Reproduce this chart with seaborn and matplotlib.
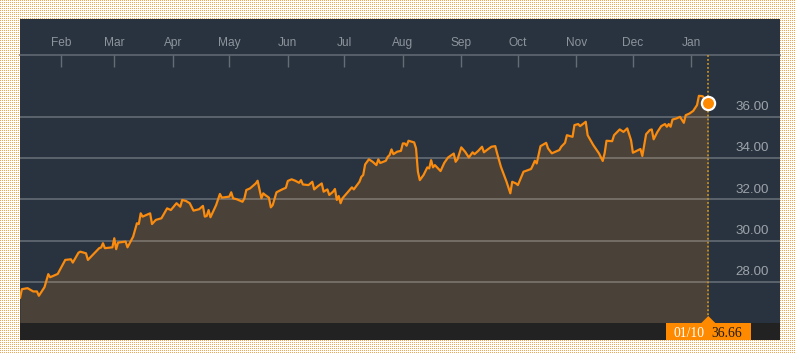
import numpy as np
import pandas as pd
import matplotlib
matplotlib.use("Agg")
import matplotlib.pyplot as plt
import matplotlib.dates as mdates
from matplotlib.patches import Rectangle, Polygon
from matplotlib.transforms import offset_copy
import seaborn as sns

# ---------------- data ----------------
start_date = "2017-01-10"
end_view = "2018-02-17"
days_since_start = [0, 1, 4, 7, 9, 10, 13, 15, 16, 20, 24, 27, 28, 31, 32, 35, 36, 38, 42, 43,
                    44, 45, 49, 50, 51, 52, 56, 57, 60, 62, 63, 64, 65, 69, 70, 72, 75, 78, 80, 83,
                    85, 86, 88, 90, 92, 95, 97, 98, 99, 100, 101, 104, 106, 107, 111, 112, 113, 115, 118, 119,
                    120, 122, 125, 126, 128, 129, 130, 132, 133, 134, 136, 139, 141, 142, 144, 146, 148, 149, 150, 153,
                    155, 156, 158, 160, 161, 163, 164, 166, 167, 168, 169, 170, 171, 173, 176, 177, 180, 181, 182, 183,
                    185, 187, 189, 190, 191, 194, 195, 196, 197, 198, 200, 202, 203, 204, 205, 206, 209, 210, 211, 212,
                    214, 216, 217, 218, 219, 220, 223, 225, 227, 230, 231, 232, 234, 236, 238, 240, 241, 243, 245, 246,
                    248, 250, 252, 253, 255, 257, 258, 260, 261, 263, 264, 267, 268, 271, 272, 273, 274, 276, 277, 279,
                    280, 282, 284, 286, 287, 289, 290, 293, 294, 296, 297, 300, 301, 302, 304, 307, 309, 310, 311, 314,
                    315, 318, 320, 322, 324, 325, 327, 329, 330, 332, 334, 335, 336, 338, 340, 342, 343, 344, 345, 346,
                    348, 350, 352, 353, 355, 357, 359, 360, 362, 365]
close_values = [27.21, 27.64, 27.69, 27.53, 27.53, 27.32, 27.74, 28.37, 28.22, 28.38, 29.06, 29.09, 28.93, 29.41, 29.46, 29.38, 29.06, 29.25, 29.63, 29.66,
                29.87, 29.63, 29.67, 30.11, 29.58, 29.90, 29.95, 29.67, 30.19, 30.84, 30.80, 31.32, 31.16, 31.32, 30.80, 31.00, 31.08, 31.56, 31.48, 31.81,
                31.64, 31.97, 31.92, 31.81, 31.45, 31.52, 31.68, 31.16, 31.19, 31.48, 31.13, 31.72, 32.26, 32.08, 32.13, 32.34, 32.05, 32.00, 31.88, 32.05,
                32.45, 32.53, 32.77, 32.90, 32.05, 32.29, 32.21, 32.08, 31.61, 31.72, 32.34, 32.48, 32.56, 32.89, 32.97, 32.90, 32.80, 32.93, 32.72, 32.69,
                32.85, 32.48, 32.64, 32.77, 32.37, 32.48, 32.21, 32.37, 32.50, 31.97, 32.16, 31.81, 32.05, 32.26, 32.58, 32.48, 32.85, 33.09, 33.18, 33.69,
                33.94, 33.82, 33.66, 33.94, 33.76, 33.87, 34.06, 34.15, 34.42, 34.19, 34.31, 34.35, 34.71, 34.71, 34.60, 34.84, 34.76, 34.47, 33.34, 32.93,
                33.18, 33.55, 33.50, 33.90, 33.55, 33.66, 33.37, 33.77, 34.03, 34.22, 33.82, 33.94, 34.52, 34.31, 34.03, 34.28, 34.19, 34.35, 34.55, 34.28,
                34.42, 34.55, 34.58, 34.23, 33.58, 33.09, 32.85, 32.29, 32.85, 32.77, 32.69, 33.34, 33.37, 33.47, 33.66, 33.87, 33.74, 34.58, 34.63, 34.74,
                34.47, 34.23, 34.31, 34.39, 34.55, 34.74, 35.11, 35.03, 35.60, 35.65, 35.55, 35.76, 35.11, 34.95, 34.63, 34.23, 33.86, 34.23, 34.84, 34.82,
                35.11, 35.39, 35.27, 35.44, 34.87, 34.26, 34.35, 34.44, 34.10, 35.16, 35.36, 35.39, 34.91, 35.27, 35.55, 35.65, 35.52, 35.65, 35.52, 35.87,
                35.92, 36.00, 35.71, 36.08, 36.16, 36.29, 36.57, 37.02, 37.00, 36.66]
month_ticks = ["2017-02-01", "2017-03-01", "2017-04-01", "2017-05-01", "2017-06-01", "2017-07-01",
               "2017-08-01", "2017-09-01", "2017-10-01", "2017-11-01", "2017-12-01", "2018-01-01"]
month_labels = ["Feb", "Mar", "Apr", "May", "Jun", "Jul", "Aug", "Sep", "Oct", "Nov", "Dec", "Jan"]
price_ticks = [28, 30, 32, 34, 36]
price_labels = ["28.00", "30.00", "32.00", "34.00", "36.00"]
price_range = (26.0, 39.0)
last_date_label = "01/10"
last_value_label = "36.66"

dates = pd.to_datetime(start_date) + pd.to_timedelta(days_since_start, unit="D")
df = pd.DataFrame({"date": dates, "close": close_values})

# ---------------- style ----------------
sns.set_theme(style="dark")
plt.rcParams['font.family'] = ['Liberation Sans', 'DejaVu Sans']

W, H = 795, 353
fig = plt.figure(figsize=(W / 100, H / 100), dpi=100)
fig.patch.set_facecolor("white")

# dotted orange page background
pat = np.ones((H, W, 3))
yy, xx = np.mgrid[0:H, 0:W]
mask = (yy % 2 == 0) & (xx % 2 == 0)
pat[mask] = np.array([240, 165, 80]) / 255.0
fig.figimage(pat, xo=0, yo=0, zorder=-3, origin="upper", resample=False)


def frac(x0, y0, x1, y1):
    return [x0 / W, 1 - y1 / H, (x1 - x0) / W, (y1 - y0) / H]


panel = Rectangle((20 / W, 1 - 340 / H), 760 / W, 321 / H, transform=fig.transFigure,
                  facecolor="#29333f", edgecolor="none", zorder=-2)
fig.add_artist(panel)

BG = "#29333f"
ORANGE = "#f98b0f"
ax = fig.add_axes(frac(20, 55, 780, 323))
ax.set_facecolor(BG)

ax.fill_between(df["date"], df["close"], price_range[0], color="#4a4139", lw=0, zorder=1)
sns.lineplot(data=df, x="date", y="close", ax=ax, color=ORANGE, lw=1.6, zorder=3)

ax.set_xlim(pd.to_datetime(start_date), pd.to_datetime(end_view))
ax.set_ylim(*price_range)
ax.set_xlabel("")
ax.set_ylabel("")

# top month axis
ax.xaxis.tick_top()
ax.set_xticks(pd.to_datetime(month_ticks))
ax.set_xticklabels(month_labels)
ax.tick_params(axis="x", which="major", direction="in", length=8.6, width=1.0, color="#646d77",
               labelsize=8.6, labelcolor="#8c949c", pad=4.5, top=True, bottom=False,
               labeltop=True, labelbottom=False)
ax.xaxis.set_minor_locator(matplotlib.ticker.NullLocator())

# y grid and labels
ax.set_yticks(price_ticks)
ax.tick_params(axis="y", left=False, right=False, labelleft=False, labelright=False)
ax.grid(axis="y", color="white", alpha=0.25, lw=1.3)
ax.grid(axis="x", visible=False)
ax.set_axisbelow("line")

ytrans = offset_copy(ax.get_yaxis_transform(), fig=fig, x=-11, y=6.7, units="dots")
for v, lab in zip(price_ticks, price_labels):
    ax.text(1.0, v, lab, transform=ytrans, ha="right", va="baseline", fontsize=9.6, color="#9ca3aa")

for side in ["left", "right", "bottom"]:
    ax.spines[side].set_visible(False)
ax.spines["top"].set_visible(True)
ax.spines["top"].set_color("#646d77")
ax.spines["top"].set_linewidth(1.1)

# last point marker and dotted cursor
last_date = df["date"].iloc[-1]
last_val = df["close"].iloc[-1]
ax.axvline(last_date, color="#c8901e", ls=(0, (1, 1.2)), lw=1.3, zorder=4)
ax.plot([last_date], [last_val], "o", ms=9.5, mfc="#ff8a00", mec="white", mew=1.6,
        zorder=6, clip_on=False)

# bottom bar
bar = fig.add_axes(frac(20, 323, 780, 340))
bar.set_facecolor("#222222")
bar.set_xlim(ax.get_xlim())
bar.set_ylim(0, 1)
bar.set_xticks([])
bar.set_yticks([])
for s in bar.spines.values():
    s.set_visible(False)
bar.set_zorder(5)

xl = ax.get_xlim()
days_per_px = (xl[1] - xl[0]) / 760.0
ln = mdates.date2num(last_date)
bar.add_patch(Rectangle((ln - 42.5 * days_per_px, 0), 85 * days_per_px, 1,
                        facecolor="#ff8a00", edgecolor="none", clip_on=False))
bar.add_patch(Polygon([(ln - 7 * days_per_px, 1.0), (ln + 7 * days_per_px, 1.0), (ln, 1 + 7 / 17)],
                      closed=True, facecolor="#ff8a00", edgecolor="none", clip_on=False))
bar.text(ln - 19.5 * days_per_px, 3.3 / 17, last_date_label, ha="center", va="baseline",
         fontsize=9.8, color="white", family=["Liberation Serif", "DejaVu Serif"])
bar.text(ln + 18.5 * days_per_px, 3.3 / 17, last_value_label, ha="center", va="baseline",
         fontsize=9.8, color="#1e1a14", family=["Liberation Serif", "DejaVu Serif"])

fig.savefig("out.png", dpi=100)
